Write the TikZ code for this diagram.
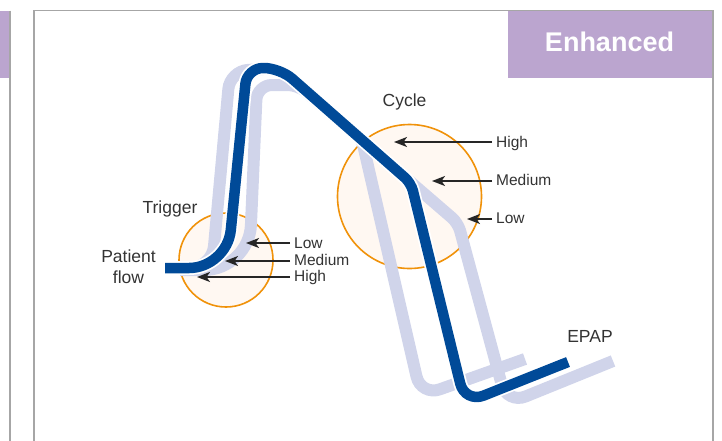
\documentclass[tikz,border=0pt]{standalone}
\usepackage{fontspec}
\setmainfont{Liberation Sans}
\usetikzlibrary{arrows.meta}
\definecolor{flowblue}{RGB}{0,74,152}
\definecolor{ghost}{RGB}{208,212,234}
\definecolor{ring}{RGB}{240,146,10}
\definecolor{ringfill}{RGB}{255,248,242}
\definecolor{tab}{RGB}{187,165,207}
\definecolor{frame}{RGB}{166,166,166}
\definecolor{ink}{RGB}{51,51,51}
\begin{document}
\begin{tikzpicture}[x=1pt,y=-1pt,
    lbl/.style={text=ink,font=\fontsize{17.5}{21}\selectfont,inner sep=1pt},
    lvl/.style={text=ink,font=\fontsize{15.5}{16}\selectfont,inner sep=1pt,anchor=base west},
    ptr/.style={draw=black!85,line width=1.9pt,shorten <=3pt,-{Stealth[length=13pt,width=10pt,inset=3.5pt]}},
    zone/.style={circle,draw=ring,fill=ringfill,line width=1.6pt,inner sep=0pt},
    ghostline/.style={draw=ghost,line width=12pt},
    casing/.style={draw=white,line width=14pt},
    flowline/.style={draw=flowblue,line width=10.5pt}]
  \useasboundingbox (0,0) rectangle (722,440);
  \clip (0,0) rectangle (722,440);
  % panel frames
  \fill[tab] (0,10.5) rectangle (9,78);
  \draw[frame,line width=1.5pt] (9.8,10.5) -- (9.8,445);
  \draw[frame,line width=1.5pt] (34,445) -- (34,10.5) -- (712.8,10.5) -- (712.8,445);
  \fill[tab] (508,11.25) rectangle (712,78);
  \node[text=white,font=\fontsize{27}{30}\selectfont\bfseries,anchor=base,inner sep=0pt] (enh) at (609.5,51.7) {Enhanced};
  % zones
  \node[zone,minimum size=94] (trig) at (226,260) {};
  \node[zone,minimum size=144] (cyc) at (409.5,196.5) {};
  % ghost traces
  \draw[ghostline] (165,268) [rounded corners=22] -- (212,268) [rounded corners=18] -- (230,71)
    [rounded corners=14] -- (280,68) [rounded corners=6] -- (362,140) [rounded corners=20] -- (421,396) -- (525,359);
  \draw[ghostline] (180,270) [rounded corners=45] -- (249,270) [rounded corners=15] -- (257,85)
    [rounded corners=10] -- (298,85) [rounded corners=8] -- (458,223) [rounded corners=20] -- (507,404) -- (613,361);
  % flow trace
  \draw[casing] (165,268) [rounded corners=38] -- (227,268) [rounded corners=16] -- (247,68)
    [rounded corners=16] -- (280,68) [rounded corners=8] -- (411,183) [rounded corners=20] -- (465,403) -- (568,362);
  \draw[flowline] (165,268) [rounded corners=38] -- (227,268) [rounded corners=16] -- (247,68)
    [rounded corners=16] -- (280,68) [rounded corners=8] -- (411,183) [rounded corners=20] -- (465,403) -- (568,362);
  % labels
  \node[lbl,anchor=base] (trigger) at (170,213.5) {Trigger};
  \node[lbl,anchor=base] (cycle) at (404.5,106.5) {Cycle};
  \node[lbl,anchor=base] (epap) at (590,342) {EPAP};
  \node[lbl,align=center] (patient) at (128.5,267) {Patient\\flow};
  % trigger levels
  \node[lvl] (tlow) at (293,248.5) {Low};
  \node[lvl] (tmed) at (293,265.5) {Medium};
  \node[lvl] (thigh) at (293,281.5) {High};
  \coordinate (tlowtip) at (246,243);
  \coordinate (tmedtip) at (225,261);
  \coordinate (thightip) at (197,277);
  \draw[ptr] (tlowtip -| tlow.west) -- (tlowtip);
  \draw[ptr] (tmedtip -| tmed.west) -- (tmedtip);
  \draw[ptr] (thightip -| thigh.west) -- (thightip);
  % cycle levels
  \node[lvl] (chigh) at (495,147) {High};
  \node[lvl] (cmed) at (495,185.5) {Medium};
  \node[lvl] (clow) at (495,223.5) {Low};
  \coordinate (chightip) at (394,142);
  \coordinate (cmedtip) at (432,181);
  \coordinate (clowtip) at (467,219);
  \draw[ptr] (chightip -| chigh.west) -- (chightip);
  \draw[ptr] (cmedtip -| cmed.west) -- (cmedtip);
  \draw[ptr] (clowtip -| clow.west) -- (clowtip);
\end{tikzpicture}
\end{document}
